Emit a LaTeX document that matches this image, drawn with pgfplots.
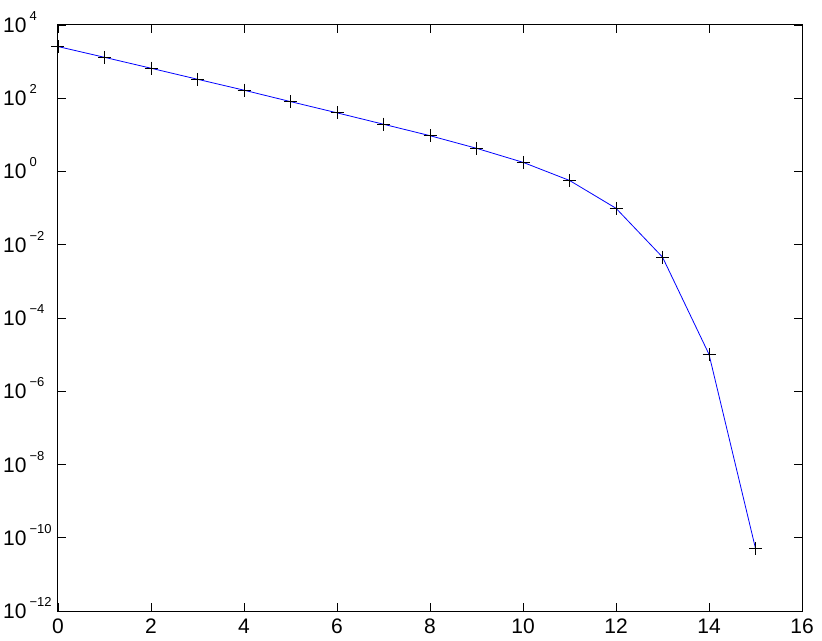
\documentclass[border=0pt]{standalone}
\usepackage{fontspec}
\setmainfont{Liberation Sans}
\usepackage{pgfplots}
\pgfplotsset{compat=1.18}

\begin{document}
\begin{tikzpicture}
\begin{axis}[
    scale only axis,
    width=744pt, height=586pt,
    ymode=log,
    xmin=0, xmax=16,
    ymin=1e-12, ymax=1e4,
    xtick={0,2,...,16},
    ytick={1e-12,1e-10,1e-8,1e-6,1e-4,1e-2,1,1e2,1e4},
    yminorticks=false,
    tick align=inside,
    major tick length=8pt,
    axis line style={line width=1pt},
    every tick/.style={black,line width=0.9pt},
    /pgf/number format/assume math mode=true,
    tick label style={font=\fontsize{21}{21}\selectfont},
    xticklabel style={inner sep=0pt, yshift=-8pt},
    yticklabel={\pgfmathparse{int(round(\tick/2.302585))}\let\ex\pgfmathresult
      10\hspace{3pt}\raisebox{12pt}{\fontsize{13}{13}\selectfont\ifnum\ex<0 −\the\numexpr-\ex\relax\else\ex\fi}},
    yticklabel style={anchor=base west, inner sep=0pt, xshift=-55pt, yshift=-7.5pt},
    clip=false,
]
\addplot[blue, line width=0.8pt, mark=+, mark size=6.5pt,
    mark options={black, line width=0.8pt}]
  coordinates {
    (0,2580) (1,1310) (2,660) (3,330) (4,166) (5,81) (6,40) (7,19.5)
    (8,9.5) (9,4.3) (10,1.78) (11,0.57) (12,0.099) (13,0.0046)
    (14,1.02e-5) (15,5.1e-11)
  };
\end{axis}
\path (current axis.south west) ++(-58pt,-29pt) coordinate (bl);
\path (current axis.north east) ++(20pt,25pt) coordinate (tr);
\end{tikzpicture}
\end{document}
